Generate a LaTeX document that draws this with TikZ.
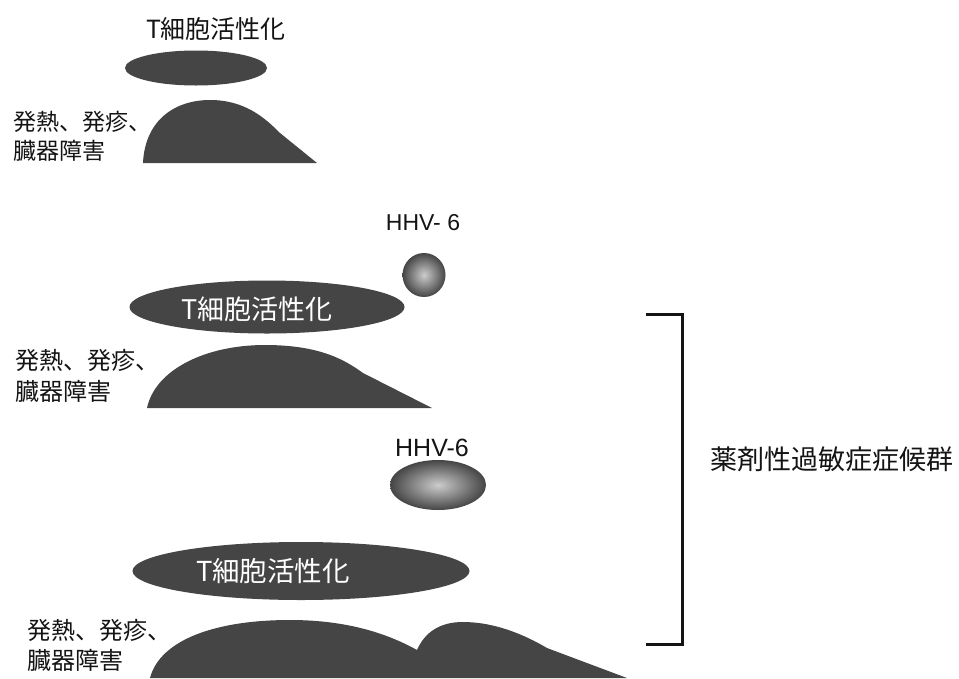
\documentclass[tikz,border=0pt]{standalone}
\usepackage{fontspec}
\setmainfont{Liberation Sans}
\newfontfamily\jp{Noto Sans CJK JP}
\usetikzlibrary{shapes.geometric}
\definecolor{blob}{gray}{0.27}
\definecolor{ink}{gray}{0.08}
\begin{document}
\begin{tikzpicture}[x=1pt,y=-1pt,
  cell/.style={ellipse, fill=blob, inner sep=0pt},
  virus/.style={ellipse, inner sep=0pt, shading=radial, inner color=gray!40, outer color=blob},
  hill/.style={fill=blob},
  lbl/.style 2 args={font=\jp\fontsize{#1}{#2}\selectfont, text=ink, inner sep=0pt, align=left, anchor=west},
  jtxt/.style={font=\jp\fontsize{#1}{#1}\selectfont, text=ink, inner sep=0pt},
  wtxt/.style={font=\jp\fontsize{#1}{#1}\selectfont, text=white, inner sep=0pt},
  vtxt/.style={font=\fontsize{#1}{#1}\selectfont, text=ink, inner sep=0pt},
  bracket/.style={draw=ink, line width=3pt}
]
\useasboundingbox (0,0) rectangle (959,678);

% ---------- panel 1 ----------
\node[jtxt=25] (t1) at (216,29) {T細胞活性化};
\node[cell, minimum width=142, minimum height=35] (c1) at (196,68) {};
\fill[hill] (143,163) .. controls (145,120) and (175,100) .. (210,100)
  .. controls (245,100) and (265,118) .. (280,133) -- (317,163) -- cycle;
\node[lbl={23}{29}] (s1) at (13,136) {発熱、発疹、\\臓器障害};

% ---------- panel 2 ----------
\node[vtxt=23] (h2) at (423,223) {HHV- 6};
\node[virus, minimum width=43, minimum height=44] (v2) at (424,275) {};
\node[cell, minimum width=275, minimum height=53] (c2) at (267,307) {};
\node[wtxt=27] (c2t) at (257,309) {T細胞活性化};
\fill[hill] (147,408) .. controls (155,370) and (205,345) .. (265,345)
  .. controls (320,345) and (345,360) .. (363,373) -- (432,408) -- cycle;
\node[lbl={24}{31}] (s2) at (15,376) {発熱、発疹、\\臓器障害};

% ---------- panel 3 ----------
\node[vtxt=25] (h3) at (432,448) {HHV-6};
\node[virus, minimum width=96, minimum height=50] (v3) at (438,485) {};
\node[cell, minimum width=337, minimum height=58] (c3) at (301,571) {};
\node[wtxt=27.5] (c3t) at (273,571) {T細胞活性化};
\fill[hill] (150,678) .. controls (160,640) and (215,620) .. (290,620)
  .. controls (350,620) and (390,635) .. (417,650)
  .. controls (425,632) and (440,622) .. (463,622)
  .. controls (495,622) and (525,635) .. (547,648) -- (627,678) -- cycle;
\node[lbl={24}{30}] (s3) at (27,645) {発熱、発疹、\\臓器障害};

% ---------- bracket ----------
\coordinate (b1) at (646,314);
\coordinate (b2) at (682,314);
\coordinate (b3) at (682,644);
\coordinate (b4) at (646,644);
\draw[bracket] (b1) -- (b2) -- (b3) -- (b4);
\node[jtxt=27, anchor=west] (dihs) at (710,459) {薬剤性過敏症症候群};
\end{tikzpicture}
\end{document}
